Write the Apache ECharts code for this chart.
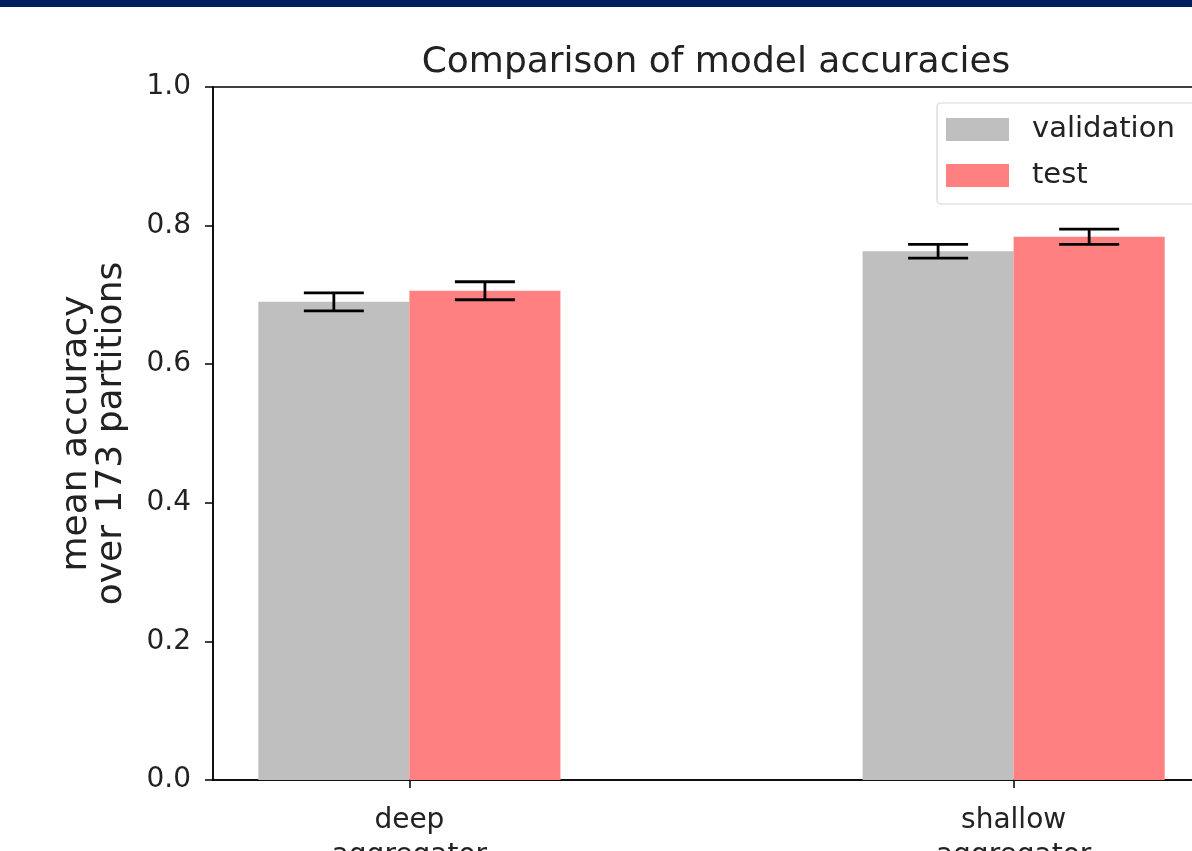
<!DOCTYPE html>
<html>
<head>
<meta charset="utf-8">
<script src="https://cdn.jsdelivr.net/npm/echarts@6/dist/echarts.min.js"></script>
<style>
  html, body { margin: 0; padding: 0; background: #fff; overflow: hidden; }
  .top-band { height: 7px; background: #00215e; }
  /* plot runs past the right edge of the window, like the cropped original */
  #chart { width: 1230px; height: 844px; }
</style>
</head>
<body>
<div class="top-band"></div>
<div id="chart"></div>
<script>
const categories = ["deep\naggregator", "shallow\naggregator"];
const validationMean = [0.690, 0.763];
const validationErr = [0.013, 0.010];
const testMean = [0.706, 0.784];
const testErr = [0.013, 0.011];
const yTicks = [0, 0.2, 0.4, 0.6, 0.8, 1.0];

const font = "DejaVu Sans";
const barHalf = 0.125;

const chart = echarts.init(document.getElementById("chart"));

function barItem(offset) {
  return function (params, api) {
    const i = api.value(0);
    const p0 = api.coord([i + offset - barHalf, api.value(1)]);
    const p1 = api.coord([i + offset + barHalf, 0]);
    return {
      type: "rect",
      shape: { x: p0[0], y: p0[1], width: p1[0] - p0[0], height: p1[1] - p0[1] },
      style: api.style(),
    };
  };
}

function errItem(offset) {
  return function (params, api) {
    const i = api.value(0);
    const m = api.value(1);
    const e = api.value(2);
    const hi = api.coord([i + offset, m + e]);
    const lo = api.coord([i + offset, m - e]);
    const cap = 30;
    const st = { stroke: "#000", lineWidth: 2.8 };
    return {
      type: "group",
      children: [
        { type: "line", shape: { x1: hi[0], y1: hi[1], x2: lo[0], y2: lo[1] }, style: st },
        { type: "line", shape: { x1: hi[0] - cap, y1: hi[1], x2: hi[0] + cap, y2: hi[1] }, style: st },
        { type: "line", shape: { x1: lo[0] - cap, y1: lo[1], x2: lo[0] + cap, y2: lo[1] }, style: st },
      ],
    };
  };
}

const idx = categories.map((_, i) => i);

const option = {
  animation: false,
  textStyle: { fontFamily: font },
  title: {
    text: "Comparison of model accuracies",
    left: 711,
    top: 33,
    textAlign: "center",
    textStyle: { fontFamily: font, fontSize: 36, fontWeight: "normal", color: "#222" },
  },
  legend: {
    orient: "vertical",
    left: 937,
    top: 96,
    icon: "rect",
    itemWidth: 63,
    itemHeight: 23,
    itemGap: 17,
    padding: [12, 40, 14, 9],
    borderColor: "#d6d6d6",
    borderWidth: 1.2,
    borderRadius: 4,
    data: ["validation", "test"],
    textStyle: { fontFamily: font, fontSize: 29, color: "#222", padding: [0, 0, 0, 18] },
  },
  grid: {
    left: 213,
    top: 80,
    right: 20,
    bottom: 71,
    outerBoundsMode: "none",
    containLabel: false,
    show: true,
    borderColor: "#000",
    borderWidth: 1.5,
    backgroundColor: "transparent",
  },
  xAxis: {
    type: "value",
    min: -0.325,
    max: 1.325,
    splitLine: { show: false },
    axisLine: { show: true, lineStyle: { color: "#000", width: 1.5 } },
    axisTick: { show: true, customValues: idx, length: 8, lineStyle: { color: "#000", width: 1.5 } },
    axisLabel: {
      customValues: idx,
      formatter: (v) => categories[Math.round(v)],
      fontFamily: font,
      fontSize: 28,
      color: "#222",
      margin: 23,
      lineHeight: 35,
    },
  },
  yAxis: {
    type: "value",
    min: 0,
    max: 1,
    interval: 0.2,
    name: "mean accuracy\nover 173 partitions",
    nameLocation: "middle",
    nameRotate: 90,
    nameGap: 84,
    nameTextStyle: { fontFamily: font, fontSize: 36, color: "#222", lineHeight: 35 },
    splitLine: { show: false },
    axisLine: { show: true, onZero: false, lineStyle: { color: "#000", width: 1.5 } },
    axisTick: { show: true, length: 8, lineStyle: { color: "#000", width: 1.5 } },
    axisLabel: {
      formatter: (v) => (yTicks.includes(+v.toFixed(1)) ? v.toFixed(1) : ""),
      fontFamily: font,
      fontSize: 28,
      color: "#222",
      margin: 22,
    },
  },
  series: [
    {
      name: "validation",
      type: "custom",
      renderItem: barItem(-barHalf),
      itemStyle: { color: "#bfbfbf" },
      encode: { x: 0, y: 1 },
      data: idx.map((i) => [i, validationMean[i]]),
    },
    {
      name: "test",
      type: "custom",
      renderItem: barItem(barHalf),
      itemStyle: { color: "#ff8080" },
      encode: { x: 0, y: 1 },
      data: idx.map((i) => [i, testMean[i]]),
    },
    {
      type: "custom",
      renderItem: errItem(-barHalf),
      encode: { x: 0, y: 1 },
      data: idx.map((i) => [i, validationMean[i], validationErr[i]]),
      z: 5,
    },
    {
      type: "custom",
      renderItem: errItem(barHalf),
      encode: { x: 0, y: 1 },
      data: idx.map((i) => [i, testMean[i], testErr[i]]),
      z: 5,
    },
  ],
};

chart.setOption(option);
window.addEventListener("resize", () => chart.resize());
</script>
</body>
</html>
